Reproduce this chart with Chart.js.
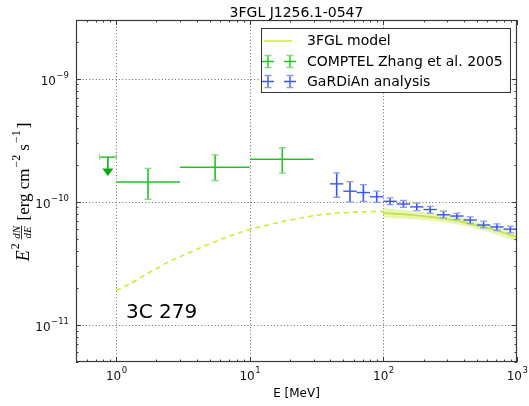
<!DOCTYPE html>
<html><head><meta charset="utf-8">
<script src="https://cdn.jsdelivr.net/npm/chart.js@4.4.0/dist/chart.umd.min.js"></script>
<style>html,body{margin:0;padding:0;background:#fff}canvas{display:block;background:#fff}</style>
</head><body>
<canvas id="c" width="529" height="406" style="width:529px;height:406px"></canvas>
<script>
// ---------- texts ----------
const titleText = '3FGL J1256.1-0547';
const xLabelText = 'E [MeV]';
const sourceLabel = '3C 279';
const legendLabels = ['3FGL model', 'COMPTEL Zhang et al. 2005', 'GaRDiAn analysis'];
const xTickValues = [1, 10, 100, 1000];
const xTickExps = ['0', '1', '2', '3'];
const yTickValues = [1e-9, 1e-10, 1e-11];
const yTickExps = ['\u22129', '\u221210', '\u221211'];

// ---------- 3FGL model (extrapolated, dashed) ----------
const modelDashE = [1.0, 1.26, 1.5, 1.78, 2.12, 2.52, 3.08, 4.47, 6.5, 9.44, 14.1, 25.8, 38.6, 59.4, 89, 100];
const modelDashF = [1.90e-11, 2.15e-11, 2.40e-11, 2.68e-11, 2.96e-11, 3.30e-11, 3.62e-11, 4.33e-11, 5.09e-11, 5.85e-11, 6.54e-11, 7.5e-11, 7.98e-11, 8.24e-11, 8.34e-11, 8.35e-11];

// ---------- 3FGL model (fitted range, solid + band) ----------
const modelE = [100, 125.6, 167, 223, 297, 396, 528, 705, 1000];
const modelF = [8.10e-11, 7.99e-11, 7.80e-11, 7.55e-11, 7.23e-11, 6.84e-11, 6.34e-11, 5.85e-11, 5.16e-11];
const bandHi = [8.94e-11, 8.71e-11, 8.40e-11, 8.14e-11, 7.80e-11, 7.41e-11, 6.79e-11, 6.30e-11, 5.60e-11];
const bandLo = [7.41e-11, 7.32e-11, 7.23e-11, 7.05e-11, 6.79e-11, 6.41e-11, 5.92e-11, 5.42e-11, 4.73e-11];

// ---------- COMPTEL (Zhang et al. 2005) ----------
const comptelE = [1.73, 5.5, 17.5];
const comptelElo = [1, 3, 10];
const comptelEhi = [3, 10, 30];
const comptelF = [1.45e-10, 1.91e-10, 2.22e-10];
const comptelFlo = [1.05e-10, 1.49e-10, 1.71e-10];
const comptelFhi = [1.87e-10, 2.41e-10, 2.75e-10];
// upper limit
const ulE = [0.866];
const ulElo = [0.75];
const ulEhi = [1.0];
const ulF = [2.31e-10];

// ---------- GaRDiAn analysis ----------
const gardE = [44.7, 56.2, 70.8, 89.1, 112.2, 141.3, 177.8, 223.9, 281.8, 354.8, 446.7, 562.3, 707.9, 891.3];
const gardElo = [39.8, 50.1, 63.1, 79.4, 100, 125.9, 158.5, 199.5, 251.2, 316.2, 398.1, 501.2, 631.0, 794.3];
const gardEhi = [50.1, 63.1, 79.4, 100, 125.9, 158.5, 199.5, 251.2, 316.2, 398.1, 501.2, 631.0, 794.3, 1000];
const gardF = [1.40e-10, 1.22e-10, 1.19e-10, 1.10e-10, 1.01e-10, 0.96e-10, 0.91e-10, 0.866e-10, 0.785e-10, 0.767e-10, 0.712e-10, 0.648e-10, 0.626e-10, 0.60e-10];
const gardFhi = [1.72e-10, 1.46e-10, 1.38e-10, 1.22e-10, 1.075e-10, 1.025e-10, 0.976e-10, 0.92e-10, 0.84e-10, 0.81e-10, 0.755e-10, 0.697e-10, 0.663e-10, 0.635e-10];
const gardFlo = [1.09e-10, 1.00e-10, 1.01e-10, 0.99e-10, 0.95e-10, 0.90e-10, 0.85e-10, 0.81e-10, 0.74e-10, 0.72e-10, 0.666e-10, 0.615e-10, 0.585e-10, 0.56e-10];

// ---------- styles ----------
const C_MODEL = '#a9d21c';
const C_DASH = '#d2e82a';
const C_BAND = 'rgba(215,238,110,0.55)';
const C_GREEN = '#22c322';
const C_GREEN_CAP = '#80dc80';
const C_GREEN_UL = '#0aa80a';
const C_BLUE = '#3a56f4';
const C_BLUE_CAP = '#8c9cf6';
const SANS = '"DejaVu Sans", sans-serif';
const SERIF = '"Liberation Serif", "DejaVu Serif", serif';

const zip = (xs, ys) => xs.map((v, i) => ({x: v, y: ys[i]}));

function drawErrorBars(ctx, xs, ys, E, Elo, Ehi, F, Flo, Fhi, col, capCol) {
  for (let i = 0; i < E.length; i++) {
    const px = xs.getPixelForValue(E[i]);
    const py = ys.getPixelForValue(F[i]);
    const x0 = xs.getPixelForValue(Elo[i]);
    const x1 = xs.getPixelForValue(Ehi[i]);
    const yt = ys.getPixelForValue(Fhi[i]);
    const yb = ys.getPixelForValue(Flo[i]);
    ctx.strokeStyle = col;
    ctx.lineWidth = 1.4;
    ctx.beginPath(); ctx.moveTo(x0, py); ctx.lineTo(x1, py); ctx.stroke();
    ctx.lineWidth = 1.6;
    ctx.beginPath(); ctx.moveTo(px, yt); ctx.lineTo(px, yb); ctx.stroke();
    ctx.strokeStyle = capCol;
    ctx.lineWidth = 1.3;
    ctx.beginPath();
    ctx.moveTo(px - 3.5, yt); ctx.lineTo(px + 3.5, yt);
    ctx.moveTo(px - 3.5, yb); ctx.lineTo(px + 3.5, yb);
    ctx.stroke();
  }
}

function legendCross(ctx, cx, cy, col, capCol) {
  ctx.strokeStyle = col; ctx.lineWidth = 1.4;
  ctx.beginPath(); ctx.moveTo(cx - 6, cy); ctx.lineTo(cx + 6, cy); ctx.moveTo(cx, cy - 6); ctx.lineTo(cx, cy + 6); ctx.stroke();
  ctx.strokeStyle = capCol; ctx.lineWidth = 1.3;
  ctx.beginPath(); ctx.moveTo(cx - 3.5, cy - 6); ctx.lineTo(cx + 3.5, cy - 6); ctx.moveTo(cx - 3.5, cy + 6); ctx.lineTo(cx + 3.5, cy + 6); ctx.stroke();
}

const decor = {
  id: 'decor',
  beforeDatasetsDraw(chart) {
    const {ctx, chartArea: a, scales: {x, y}} = chart;
    ctx.save();
    ctx.strokeStyle = '#555';
    ctx.lineWidth = 0.9;
    ctx.setLineDash([1, 2.3]);
    xTickValues.forEach(v => {
      const px = Math.round(x.getPixelForValue(v)) + 0.5;
      if (px <= a.left + 1 || px >= a.right - 1) return;
      ctx.beginPath(); ctx.moveTo(px, a.top); ctx.lineTo(px, a.bottom); ctx.stroke();
    });
    yTickValues.forEach(v => {
      const py = Math.round(y.getPixelForValue(v)) + 0.5;
      ctx.beginPath(); ctx.moveTo(a.left, py); ctx.lineTo(a.right, py); ctx.stroke();
    });
    ctx.restore();
  },
  afterDatasetsDraw(chart) {
    const {ctx, chartArea: a, scales: {x, y}} = chart;
    ctx.save();
    ctx.beginPath(); ctx.rect(a.left, a.top, a.right - a.left, a.bottom - a.top); ctx.clip();
    drawErrorBars(ctx, x, y, comptelE, comptelElo, comptelEhi, comptelF, comptelFlo, comptelFhi, C_GREEN, C_GREEN_CAP);
    drawErrorBars(ctx, x, y, gardE, gardElo, gardEhi, gardF, gardFlo, gardFhi, C_BLUE, C_BLUE_CAP);
    // upper limit
    for (let i = 0; i < ulE.length; i++) {
      const px = x.getPixelForValue(ulE[i]);
      const py = y.getPixelForValue(ulF[i]);
      const x0 = x.getPixelForValue(ulElo[i]);
      const x1 = x.getPixelForValue(ulEhi[i]);
      ctx.strokeStyle = C_GREEN; ctx.lineWidth = 1.4;
      ctx.beginPath(); ctx.moveTo(x0, py); ctx.lineTo(x1, py); ctx.stroke();
      ctx.strokeStyle = C_GREEN_CAP; ctx.lineWidth = 1.2;
      ctx.beginPath(); ctx.moveTo(x0, py - 3); ctx.lineTo(x0, py + 3); ctx.moveTo(x1, py - 3); ctx.lineTo(x1, py + 3); ctx.stroke();
      ctx.strokeStyle = C_GREEN_UL; ctx.lineWidth = 1.5;
      ctx.beginPath(); ctx.moveTo(px, py); ctx.lineTo(px, py + 12); ctx.stroke();
      ctx.fillStyle = C_GREEN_UL;
      ctx.beginPath(); ctx.moveTo(px - 5.5, py + 11.5); ctx.lineTo(px + 5.5, py + 11.5); ctx.lineTo(px, py + 19); ctx.closePath(); ctx.fill();
    }
    ctx.restore();
  },
  afterDraw(chart) {
    const {ctx, chartArea: a, scales: {x, y}} = chart;
    ctx.save();
    // frame
    ctx.strokeStyle = '#3a3a3a';
    ctx.lineWidth = 1.2;
    ctx.strokeRect(a.left + 0.5, a.top + 0.5, a.right - a.left - 1, a.bottom - a.top - 1);
    // ticks
    ctx.lineWidth = 1;
    const xMinor = [];
    [0.1, 1, 10, 100].forEach(d => { for (let k = 2; k <= 9; k++) xMinor.push(k * d); });
    const yMinor = [];
    [1e-12, 1e-11, 1e-10, 1e-9].forEach(d => { for (let k = 2; k <= 9; k++) yMinor.push(k * d); });
    const tickX = (v, len) => {
      if (v < x.min * 0.999 || v > x.max * 1.001) return;
      const px = Math.round(x.getPixelForValue(v)) + 0.5;
      ctx.beginPath();
      ctx.moveTo(px, a.bottom); ctx.lineTo(px, a.bottom - len);
      ctx.moveTo(px, a.top); ctx.lineTo(px, a.top + len);
      ctx.stroke();
    };
    const tickY = (v, len) => {
      if (v < y.min * 0.999 || v > y.max * 1.001) return;
      const py = Math.round(y.getPixelForValue(v)) + 0.5;
      ctx.beginPath();
      ctx.moveTo(a.left, py); ctx.lineTo(a.left + len, py);
      ctx.moveTo(a.right, py); ctx.lineTo(a.right - len, py);
      ctx.stroke();
    };
    xMinor.forEach(v => tickX(v, 2.5));
    xTickValues.forEach(v => tickX(v, 5));
    yMinor.forEach(v => tickY(v, 2.5));
    yTickValues.forEach(v => tickY(v, 5));

    // tick labels
    ctx.fillStyle = '#111';
    ctx.textBaseline = 'alphabetic';
    xTickValues.forEach((v, i) => {
      const px = x.getPixelForValue(v);
      ctx.font = '12px ' + SANS;
      const w1 = ctx.measureText('10').width;
      ctx.font = '8.5px ' + SANS;
      const w2 = ctx.measureText(xTickExps[i]).width;
      const sx = px - (w1 + w2) / 2;
      ctx.textAlign = 'left';
      ctx.font = '12px ' + SANS;
      ctx.fillText('10', sx, 380);
      ctx.font = '8.5px ' + SANS;
      ctx.fillText(xTickExps[i], sx + w1 + 0.5, 373);
    });
    yTickValues.forEach((v, i) => {
      const py = y.getPixelForValue(v);
      ctx.font = '8.5px ' + SANS;
      const w2 = ctx.measureText(yTickExps[i]).width;
      const right = a.left - 7;
      ctx.textAlign = 'left';
      ctx.fillText(yTickExps[i], right - w2, py - 1);
      ctx.font = '12px ' + SANS;
      ctx.textAlign = 'right';
      ctx.fillText('10', right - w2 - 0.5, py + 6);
    });

    // title
    ctx.fillStyle = '#000';
    ctx.textAlign = 'center';
    ctx.font = '14px ' + SANS;
    ctx.fillText(titleText, (a.left + a.right) / 2, 17);
    // x axis label
    ctx.font = '12px ' + SANS;
    ctx.fillText(xLabelText, (a.left + a.right) / 2, 397);
    // source label
    ctx.textAlign = 'left';
    ctx.font = '20px ' + SANS;
    ctx.fillText(sourceLabel, 126, 318);

    // y axis label (rotated mathtext style)
    ctx.save();
    ctx.translate(29, 192);
    ctx.rotate(-Math.PI / 2);
    const parts = [
      {t: 'E', f: 'italic 18px ' + SERIF, dy: 0},
      {t: '2', f: '12px ' + SERIF, dy: -10, gap: 1},
      {frac: ['dN', 'dE'], f: 'italic 11px ' + SERIF, gap: 4},
      {t: '[erg cm', f: '17px ' + SERIF, dy: 0, gap: 5},
      {t: '\u22122', f: '12px ' + SERIF, dy: -9, gap: 1},
      {t: 's', f: '17px ' + SERIF, dy: 0, gap: 4},
      {t: '\u22121', f: '12px ' + SERIF, dy: -9, gap: 1},
      {t: ']', f: '17px ' + SERIF, dy: 0, gap: 2}
    ];
    let total = 0;
    parts.forEach(p => {
      ctx.font = p.f;
      p.w = p.frac ? Math.max(ctx.measureText(p.frac[0]).width, ctx.measureText(p.frac[1]).width) + 1 : ctx.measureText(p.t).width;
      total += (p.gap || 0) + p.w;
    });
    let cx = -total / 2;
    ctx.textAlign = 'left';
    ctx.fillStyle = '#000';
    parts.forEach(p => {
      cx += (p.gap || 0);
      ctx.font = p.f;
      if (p.frac) {
        const w0 = ctx.measureText(p.frac[0]).width, w1 = ctx.measureText(p.frac[1]).width;
        ctx.fillText(p.frac[0], cx + (p.w - w0) / 2, -9.5);
        ctx.fillText(p.frac[1], cx + (p.w - w1) / 2, 1.5);
        ctx.fillRect(cx, -7.8, p.w, 0.8);
      } else {
        ctx.fillText(p.t, cx, p.dy);
      }
      cx += p.w;
    });
    ctx.restore();

    // legend
    const lx = 261, ly = 28, lw = 249, lh = 64;
    ctx.fillStyle = '#fff';
    ctx.fillRect(lx, ly, lw, lh);
    ctx.strokeStyle = '#333';
    ctx.lineWidth = 1;
    ctx.strokeRect(lx + 0.5, ly + 0.5, lw, lh);
    const rows = [41, 61.5, 81.5];
    ctx.strokeStyle = C_DASH; ctx.lineWidth = 1.4;
    ctx.beginPath(); ctx.moveTo(264, rows[0]); ctx.lineTo(292, rows[0]); ctx.stroke();
    legendCross(ctx, 268, rows[1], C_GREEN, C_GREEN_CAP);
    legendCross(ctx, 290, rows[1], C_GREEN, C_GREEN_CAP);
    legendCross(ctx, 268, rows[2], C_BLUE, C_BLUE_CAP);
    legendCross(ctx, 290, rows[2], C_BLUE, C_BLUE_CAP);
    ctx.fillStyle = '#000';
    ctx.font = '14px ' + SANS;
    ctx.textBaseline = 'middle';
    ctx.textAlign = 'left';
    legendLabels.forEach((t, i) => ctx.fillText(t, 307, rows[i] + 0.5));
    ctx.restore();
  }
};

new Chart(document.getElementById('c'), {
  type: 'line',
  data: {
    datasets: [
      {label: 'band lo', data: zip(modelE, bandLo), borderWidth: 0, borderColor: 'rgba(0,0,0,0)', pointRadius: 0, fill: false, cubicInterpolationMode: 'monotone'},
      {label: 'band hi', data: zip(modelE, bandHi), borderWidth: 0, borderColor: 'rgba(0,0,0,0)', backgroundColor: C_BAND, pointRadius: 0, fill: '-1', cubicInterpolationMode: 'monotone'},
      {label: legendLabels[0], data: zip(modelE, modelF), borderColor: C_MODEL, borderWidth: 1.6, pointRadius: 0, fill: false, cubicInterpolationMode: 'monotone'},
      {label: legendLabels[0] + ' (extrapolated)', data: zip(modelDashE, modelDashF), borderColor: C_DASH, borderWidth: 1.5, borderDash: [5, 4], pointRadius: 0, fill: false, cubicInterpolationMode: 'monotone'},
      {label: legendLabels[1], data: zip(comptelE, comptelF), showLine: false, pointRadius: 0, borderColor: C_GREEN},
      {label: legendLabels[2], data: zip(gardE, gardF), showLine: false, pointRadius: 0, borderColor: C_BLUE}
    ]
  },
  options: {
    responsive: false,
    animation: false,
    devicePixelRatio: 1,
    layout: {padding: {left: 76, right: 12, top: 20, bottom: 44}},
    plugins: {legend: {display: false}, tooltip: {enabled: false}, title: {display: false}},
    scales: {
      x: {type: 'logarithmic', min: 0.5, max: 1000, display: false},
      y: {type: 'logarithmic', min: 5e-12, max: 3e-9, display: false}
    }
  },
  plugins: [decor]
});
</script>
</body></html>
